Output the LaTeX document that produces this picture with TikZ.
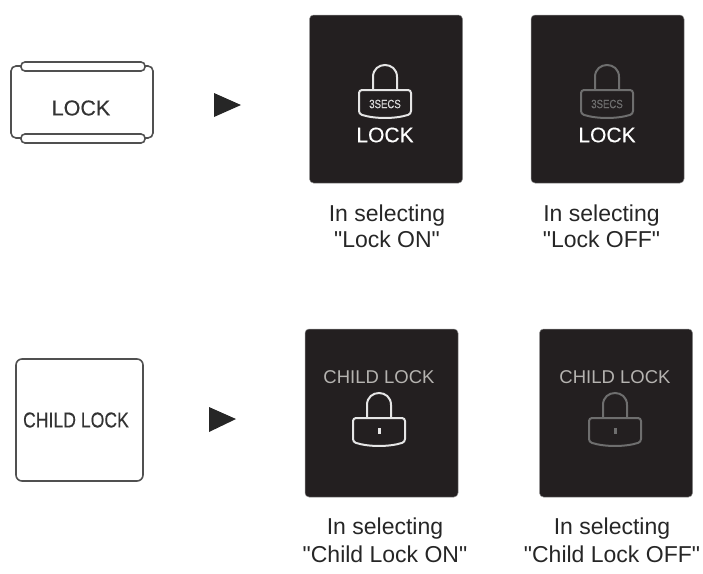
\documentclass[tikz,border=0pt]{standalone}
\usepackage{fontspec}
\setmainfont{Liberation Sans}
\newfontfamily\heavyfont[FakeBold=.35]{Liberation Sans}
\newfontfamily\capfont{Liberation Sans}
\definecolor{paneldark}{HTML}{231F20}
\definecolor{keyline}{HTML}{505050}
\definecolor{dimlock}{HTML}{6E6E6E}
\definecolor{softtext}{HTML}{B5B3B0}
\tikzset{
	panel/.style={fill=paneldark,draw=black!45,line width=.5pt,rounded corners=4pt,minimum width=153pt,minimum height=168pt,inner sep=0pt},
	keybox/.style={draw=keyline,fill=white,line width=1.6pt,rounded corners=5pt,inner sep=0pt},
	caption/.style={align=center,inner sep=0pt,text=black!85,font=\capfont\fontsize{23}{26}\selectfont},
	keytext/.style={inner sep=0pt,text=black!80,font=\heavyfont\fontsize{21.5}{24}\selectfont},
	locktext/.style={inner sep=0pt,text=white,font=\heavyfont\fontsize{21}{24}\selectfont},
	childtext/.style={inner sep=0pt,text=softtext,font=\fontsize{18.5}{22}\selectfont},
	secstext/.style={inner sep=0pt,font=\heavyfont\fontsize{12}{14}\selectfont},
	playmark/.style={fill=black!85,draw=none},
	pics/padlock/.style={code={
		\draw[#1,line width=2pt] (-12,0) -- (-12,-13) .. controls (-12,-29) and (12,-29) .. (12,-13) -- (12,0);
		\draw[#1,line width=2pt,rounded corners=3pt] (-26,0) -- (26,0) -- (26,24) .. controls (10,29) and (-10,29) .. (-26,24) -- cycle;
	}}
}
\begin{document}
\begin{tikzpicture}[x=1pt,y=-1pt]
	\useasboundingbox (0,0) rectangle (703,573);
	% left keys
	\node[keybox,minimum width=142pt,minimum height=72pt] (lockkey) at (82,102) {};
	\node[keybox,rounded corners=4pt,minimum width=124pt,minimum height=9pt] (lockkeytop) at (83,66.5) {};
	\node[keybox,rounded corners=4pt,minimum width=124pt,minimum height=9pt] (lockkeybot) at (83,138.5) {};
	\node[keytext] (locklabel) at (81,108) {LOCK};
	\node[keybox,rounded corners=6pt,minimum width=127pt,minimum height=122pt] (childkey) at (79.5,420) {};
	\node[keytext] (childlabel) at (76,420) {\scalebox{.82}[1]{CHILD LOCK}};
	% arrows
	\fill[playmark] (214,93) -- (241,105) -- (214,117) -- cycle;
	\fill[playmark] (209,407) -- (236,419) -- (209,432) -- cycle;
	% panels
	\node[panel] (lockon) at (386,99) {};
	\node[panel] (lockoff) at (607.5,99) {};
	\node[panel] (childon) at (381.5,413) {};
	\node[panel] (childoff) at (616,413) {};
	% padlocks
	\pic at (385,90) {padlock=white!90!black};
	\pic at (607,90) {padlock=dimlock};
	\pic at (379,418) {padlock=white!90!black};
	\pic at (615,418) {padlock=dimlock};
	\node[secstext,text=white!85!black] (secson) at (385,104) {\scalebox{.8}[1]{3SECS}};
	\node[secstext,text=dimlock] (secsoff) at (607,104) {\scalebox{.8}[1]{3SECS}};
	\node[fill=white!90!black,minimum width=3pt,minimum height=6pt,inner sep=0pt] (holeon) at (379,431) {};
	\node[fill=dimlock,minimum width=3pt,minimum height=6pt,inner sep=0pt] (holeoff) at (615,431) {};
	% panel labels
	\node[locktext] (lockonlabel) at (385,135) {LOCK};
	\node[locktext] (lockofflabel) at (607,135) {LOCK};
	\node[childtext] (childonlabel) at (379,377) {CHILD LOCK};
	\node[childtext] (childofflabel) at (615,377) {CHILD LOCK};
	% captions
	\node[caption] (capa) at (387,226) {In selecting\\"Lock ON"};
	\node[caption] (capb) at (601.5,226) {In selecting\\"Lock OFF"};
	\node[caption,font=\capfont\fontsize{23}{28}\selectfont] (capc) at (385,540) {In selecting\\"Child Lock ON"};
	\node[caption,font=\capfont\fontsize{23}{28}\selectfont] (capd) at (612,540) {In selecting\\"Child Lock OFF"};
\end{tikzpicture}
\end{document}
